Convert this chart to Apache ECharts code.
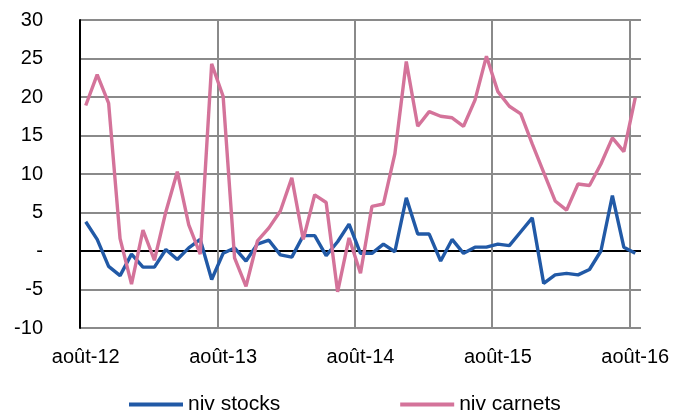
<!DOCTYPE html>
<html>
<head>
<meta charset="utf-8">
<script src="https://cdn.jsdelivr.net/npm/echarts@6/dist/echarts.min.js"></script>
<style>
  html, body { margin: 0; padding: 0; background: #fff; }
  #chart { width: 675px; height: 415px; }
</style>
</head>
<body>
<div id="chart"></div>
<script>
// mois, d'août 2012 à août 2016
const months = [
  'août-12', 'sept-12', 'oct-12', 'nov-12', 'déc-12',
  'janv-13', 'févr-13', 'mars-13', 'avr-13', 'mai-13', 'juin-13', 'juil-13', 'août-13', 'sept-13', 'oct-13', 'nov-13', 'déc-13',
  'janv-14', 'févr-14', 'mars-14', 'avr-14', 'mai-14', 'juin-14', 'juil-14', 'août-14', 'sept-14', 'oct-14', 'nov-14', 'déc-14',
  'janv-15', 'févr-15', 'mars-15', 'avr-15', 'mai-15', 'juin-15', 'juil-15', 'août-15', 'sept-15', 'oct-15', 'nov-15', 'déc-15',
  'janv-16', 'févr-16', 'mars-16', 'avr-16', 'mai-16', 'juin-16', 'juil-16', 'août-16'
]

const nivStocks = [
  3.8, 1.5, -2.0, -3.2, -0.4, -2.1, -2.1, 0.2, -1.1, 0.4, 1.5, -3.7,
  -0.3, 0.4, -1.3, 0.9, 1.4, -0.5, -0.8, 2.0, 2.0, -0.6, 1.2, 3.5,
  -0.3, -0.3, 0.9, -0.1, 6.9, 2.2, 2.2, -1.3, 1.5, -0.3, 0.5, 0.5,
  0.9, 0.7, 2.5, 4.3, -4.2, -3.1, -2.9, -3.1, -2.4, 0.0, 7.2, 0.5,
  -0.3
]

const nivCarnets = [
  18.9, 22.9, 19.2, 1.6, -4.3, 2.7, -1.2, 5.1, 10.3, 3.4, -0.4, 24.3,
  20.1, -0.9, -4.6, 1.3, 3.0, 5.2, 9.5, 1.5, 7.3, 6.3, -5.3, 1.7,
  -2.9, 5.8, 6.1, 12.6, 24.6, 16.2, 18.1, 17.5, 17.3, 16.2, 19.6, 25.3,
  20.7, 18.8, 17.8, 13.9, 10.2, 6.5, 5.3, 8.7, 8.5, 11.3, 14.7, 12.9,
  19.9
]

const yTicks = { min: -10, max: 30, step: 5 }

let myChart = echarts.init(document.getElementById('chart'))
const font = '"Liberation Sans", Arial, sans-serif'
const grey = '#8a8a8a'

// ligne du zéro en noir, les autres en gris
let lineColors = []
for (let v = yTicks.min; v <= yTicks.max; v += yTicks.step) {
  lineColors.push(v === 0 ? '#000' : grey)
}

myChart.setOption({
  animation: false,
  textStyle: { fontFamily: font },
  grid: { left: 80, right: 34, top: 20, bottom: 87 },
  legend: {
    data: ['niv stocks', 'niv carnets'],
    left: 124,
    top: 389,
    icon: 'rect',
    itemWidth: 54,
    itemHeight: 4,
    itemGap: 120,
    textStyle: { fontSize: 21, color: '#000', fontFamily: font }
  },
  xAxis: {
    type: 'category',
    data: months,
    boundaryGap: true,
    axisLine: { show: false },
    axisTick: { show: false },
    axisLabel: { interval: 11, fontSize: 20, color: '#000', margin: 19, fontFamily: font },
    splitLine: {
      show: true,
      interval: 11,
      showMaxLine: false,
      lineStyle: { color: grey, width: 2 }
    }
  },
  yAxis: {
    type: 'value',
    min: yTicks.min,
    max: yTicks.max,
    interval: yTicks.step,
    axisLine: { show: true, lineStyle: { color: '#000', width: 2 } },
    axisTick: { show: false },
    axisLabel: {
      fontSize: 20,
      color: '#000',
      margin: 37,
      fontFamily: font,
      formatter: (v) => (v === 0 ? '-' : v)
    },
    splitLine: { show: true, lineStyle: { color: lineColors, width: 2 } }
  },
  series: [
    {
      name: 'niv stocks',
      type: 'line',
      data: nivStocks,
      symbol: 'none',
      itemStyle: { color: '#2159a6' },
      lineStyle: { color: '#2159a6', width: 3.4 }
    },
    {
      name: 'niv carnets',
      type: 'line',
      data: nivCarnets,
      symbol: 'none',
      itemStyle: { color: '#d4739a' },
      lineStyle: { color: '#d4739a', width: 3.4 }
    }
  ]
})
</script>
</body>
</html>
